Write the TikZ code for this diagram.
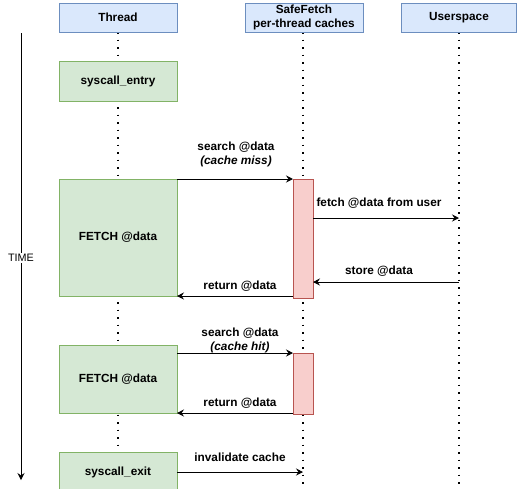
\documentclass[tikz,border=0pt]{standalone}
\usepackage{fontspec}
\setmainfont{Liberation Sans}
\usetikzlibrary{arrows.meta}
\definecolor{hdrfill}{HTML}{DAE8FC}
\definecolor{hdrline}{HTML}{6C8EBF}
\definecolor{grnfill}{HTML}{D5E8D4}
\definecolor{grnline}{HTML}{82B366}
\definecolor{redfill}{HTML}{F8CECC}
\definecolor{redline}{HTML}{B85450}
\tikzset{
  hdr/.style={draw=hdrline, fill=hdrfill, line width=0.8pt},
  grn/.style={draw=grnline, fill=grnfill, line width=0.8pt},
  act/.style={draw=redline, fill=redfill, line width=0.8pt},
  life/.style={line width=1.5pt, dash pattern=on 1.5pt off 6pt},
  msg/.style={line width=0.8pt, -{Stealth[length=7pt,width=7pt,inset=2.5pt]}},
  lbl/.style={font=\fontsize{11.8}{13.5}\selectfont\bfseries, align=center, inner sep=0pt},
}
\begin{document}
\begin{tikzpicture}[x=1pt,y=-1pt]
\useasboundingbox (0,0) rectangle (517,488);
% lifelines
\coordinate (tl0) at (118,32); \coordinate (tl1) at (118,488);
\coordinate (sl0) at (303,32); \coordinate (sl1) at (303,488);
\coordinate (ul0) at (459,32); \coordinate (ul1) at (459,488);
\draw[life] (tl0) -- (tl1);
\draw[life] (sl0) -- (sl1);
\draw[life] (ul0) -- (ul1);
% headers
\draw[hdr] (59,3) rectangle (177,32);
\node[lbl] (hthread) at (118,17.5) {Thread};
\draw[hdr] (245,3) rectangle (363,32);
\node[lbl] (hsafe) at (304,17.5) {SafeFetch\\per-thread caches};
\draw[hdr] (401,3) rectangle (516.5,32);
\node[lbl] (huser) at (459,17.5) {Userspace};
% time axis
\coordinate (t0) at (21,33); \coordinate (t1) at (21,480);
\draw[line width=0.8pt, -{Stealth[length=7pt,width=7pt,inset=2.5pt]}] (t0) -- (t1);
\node[fill=white, inner sep=1pt, font=\fontsize{10.8}{12}\selectfont] (time) at (21,258) {TIME};
% thread boxes
\draw[grn] (59,61) rectangle (177,101);
\node[lbl] (entry) at (118,81) {syscall\_entry};
\draw[grn] (59,179) rectangle (177,296);
\node[lbl] (f1) at (118,237.5) {FETCH @data};
\draw[grn] (59,345) rectangle (177,413);
\node[lbl] (f2) at (118,379) {FETCH @data};
\draw[grn] (59,452) rectangle (177,495);
\node[lbl] (exit) at (118,472) {syscall\_exit};
% activations
\draw[act] (293,179) rectangle (313,298);
\draw[act] (293,353) rectangle (313,414);
% messages
\coordinate (a1s) at (177,179); \coordinate (a1e) at (293,179);
\draw[msg] (a1s) -- (a1e);
\node[lbl] (l1) at (236,147) {search @data};
\node[lbl, font=\fontsize{11.8}{13.5}\selectfont\bfseries\itshape] (l1b) at (236,161) {(cache miss)};
\coordinate (a2s) at (313,218); \coordinate (a2e) at (459,218);
\draw[msg] (a2s) -- (a2e);
\node[lbl] (l2) at (379,203) {fetch @data from user};
\coordinate (a3s) at (459,282); \coordinate (a3e) at (313,282);
\draw[msg] (a3s) -- (a3e);
\node[lbl] (l3) at (379,271) {store @data};
\coordinate (a4s) at (293,296); \coordinate (a4e) at (177,296);
\draw[msg] (a4s) -- (a4e);
\node[lbl] (l4) at (240,286) {return @data};
\coordinate (a5s) at (177,353); \coordinate (a5e) at (293,353);
\draw[msg] (a5s) -- (a5e);
\node[lbl] (l5) at (240,333) {search @data};
\node[lbl, font=\fontsize{11.8}{13.5}\selectfont\bfseries\itshape] (l5b) at (240,347) {(cache hit)};
\coordinate (a6s) at (293,413); \coordinate (a6e) at (177,413);
\draw[msg] (a6s) -- (a6e);
\node[lbl] (l6) at (240,403) {return @data};
\coordinate (a7s) at (177,472); \coordinate (a7e) at (303,472);
\draw[msg] (a7s) -- (a7e);
\node[lbl] (l7) at (240,457) {invalidate cache};
\end{tikzpicture}
\end{document}
